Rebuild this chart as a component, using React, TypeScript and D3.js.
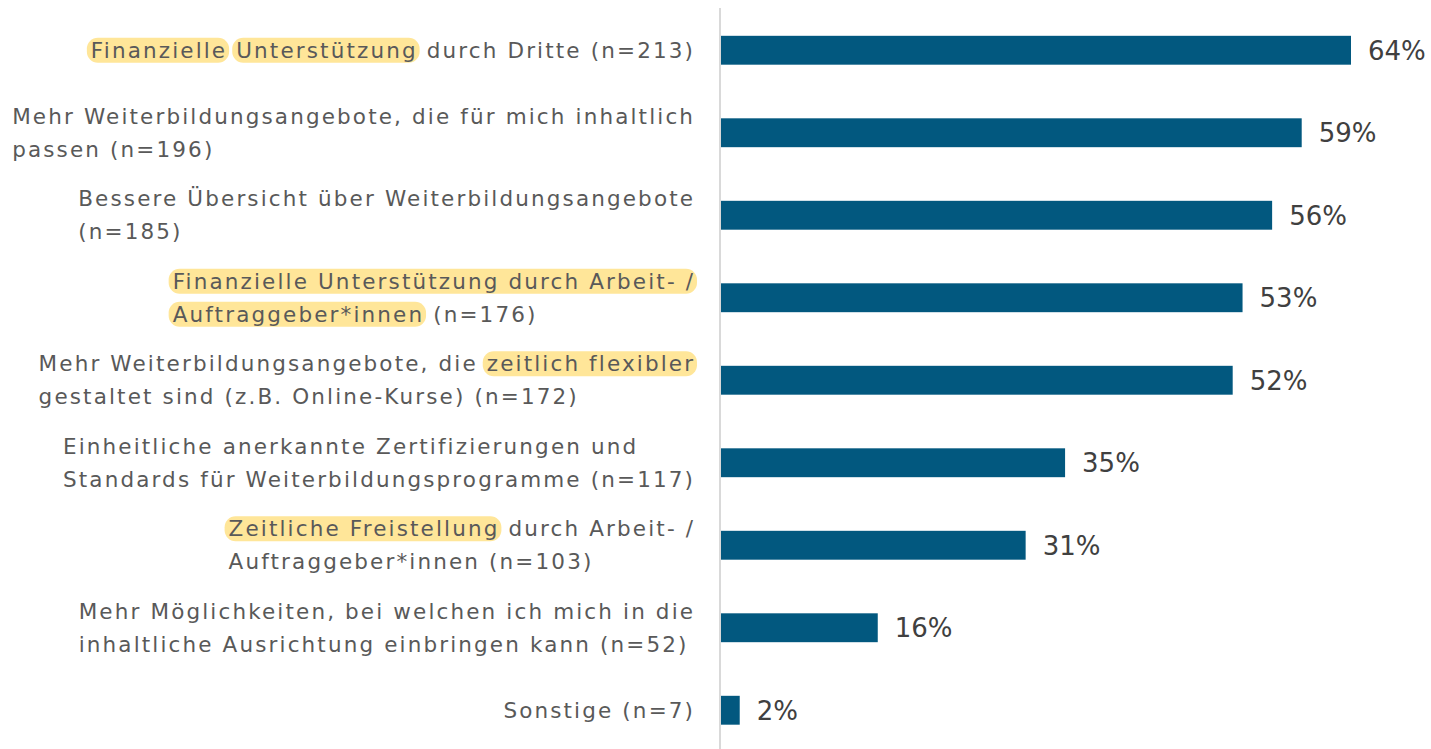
import { useRef, useEffect } from 'react';
import * as d3 from 'd3';

// Label lines; words in [brackets] are highlighted in yellow
const labels: string[][] = [
  ['[Finanzielle] [Unterstützung] durch Dritte (n=213)'],
  ['Mehr Weiterbildungsangebote, die für mich inhaltlich', 'passen (n=196)'],
  ['Bessere Übersicht über Weiterbildungsangebote', '(n=185)'],
  ['[Finanzielle Unterstützung durch Arbeit- /]', '[Auftraggeber*innen] (n=176)'],
  ['Mehr Weiterbildungsangebote, die [zeitlich flexibler]', 'gestaltet sind (z.B. Online-Kurse) (n=172)'],
  ['Einheitliche anerkannte Zertifizierungen und', 'Standards für Weiterbildungsprogramme (n=117)'],
  ['[Zeitliche Freistellung] durch Arbeit- /', 'Auftraggeber*innen (n=103)'],
  ['Mehr Möglichkeiten, bei welchen ich mich in die', 'inhaltliche Ausrichtung einbringen kann (n=52)'],
  ['Sonstige (n=7)'],
];
const values = [64, 59, 56, 53, 52, 35, 31, 16, 2];

const WIDTH = 1431;
const HEIGHT = 749;
const FONT = '"DejaVu Sans", sans-serif';
const FS = 21.5;

// split "[a] b" into segments
const parseLine = (line: string) => {
  const segs: { text: string; hl: boolean }[] = [];
  const re = /\[([^\]]+)\]|([^[]+)/g;
  let m;
  while ((m = re.exec(line)) !== null) {
    if (m[1]) segs.push({ text: m[1], hl: true });
    else segs.push({ text: m[2], hl: false });
  }
  return segs;
};

export default function App() {
  const svgRef = useRef<SVGSVGElement | null>(null);

  useEffect(() => {
    const svg = d3.select(svgRef.current);
    svg.selectAll('*').remove();

    const axisX = 720;
    const labelRight = 693;

    const y = d3
      .scaleBand<number>()
      .domain(d3.range(values.length))
      .range([9, 751.5]);
    const barH = y.bandwidth() * 0.35;

    const x = d3.scaleLinear().domain([0, 64]).range([axisX, 1351]);

    // measure helper (spaces kept)
    const measure = svg
      .append('text')
      .attr('font-family', FONT)
      .attr('font-size', FS)
      .attr('xml:space', 'preserve')
      .style('white-space', 'pre');
    const raw = (s: string) => {
      measure.text(s);
      return (measure.node() as SVGTextElement).getComputedTextLength();
    };
    // the original font is wider: spread letters so the widest line fits
    const longest = 'Mehr Weiterbildungsangebote, die für mich inhaltlich';
    const ls = Math.max(0, (683 - raw(longest)) / longest.length);
    const widthOf = (s: string) => raw(s) + ls * s.length;

    const hlLayer = svg.append('g');
    const textLayer = svg.append('g');

    labels.forEach((lines, i) => {
      const cy = y(i)! + y.bandwidth() / 2;
      const lineGap = 33;
      const parsed = lines.map(parseLine);
      const lineWidths = parsed.map(
        (segs) => segs.reduce((a, s) => a + widthOf(s.text), 0) - ls,
      );
      const blockW = d3.max(lineWidths)!;
      const x0 = labelRight - blockW;
      parsed.forEach((segs, li) => {
        const ly = cy + (li - (lines.length - 1) / 2) * lineGap;
        let cx = x0;
        segs.forEach((s) => {
          const full = widthOf(s.text);
          if (s.hl) {
            const lead = full - widthOf(s.text.trimStart());
            const inner = widthOf(s.text.trim()) - ls;
            hlLayer
              .append('rect')
              .attr('x', cx + lead - 4)
              .attr('y', ly - 12.5)
              .attr('width', inner + 8)
              .attr('height', 25)
              .attr('rx', 11)
              .attr('fill', '#ffe699');
          }
          textLayer
            .append('text')
            .attr('x', cx)
            .attr('y', ly)
            .attr('dy', '0.36em')
            .attr('font-family', FONT)
            .attr('font-size', FS)
            .attr('letter-spacing', ls)
            .attr('fill', '#595959')
            .attr('xml:space', 'preserve')
            .style('white-space', 'pre')
            .text(s.text);
          cx += full;
        });
      });
    });
    measure.remove();

    // bars
    svg
      .append('g')
      .selectAll('rect')
      .data(values)
      .join('rect')
      .attr('x', axisX)
      .attr('y', (_, i) => y(i)! + (y.bandwidth() - barH) / 2)
      .attr('width', (d) => x(d) - axisX)
      .attr('height', barH)
      .attr('fill', '#02587f');

    // value labels
    svg
      .append('g')
      .selectAll('text')
      .data(values)
      .join('text')
      .attr('x', (d) => x(d) + 17)
      .attr('y', (_, i) => y(i)! + y.bandwidth() / 2)
      .attr('dy', '0.36em')
      .attr('font-family', FONT)
      .attr('font-size', 26)
      .attr('fill', '#404040')
      .text((d) => `${d}%`);

    // axis line
    svg
      .append('line')
      .attr('x1', axisX)
      .attr('x2', axisX)
      .attr('y1', 8)
      .attr('y2', HEIGHT)
      .attr('stroke', '#d9d9d9')
      .attr('stroke-width', 2);
  }, []);

  return (
    <svg
      ref={svgRef}
      width={WIDTH}
      height={HEIGHT}
      style={{ position: 'absolute', left: 0, top: 0, background: '#fff' }}
    />
  );
}
